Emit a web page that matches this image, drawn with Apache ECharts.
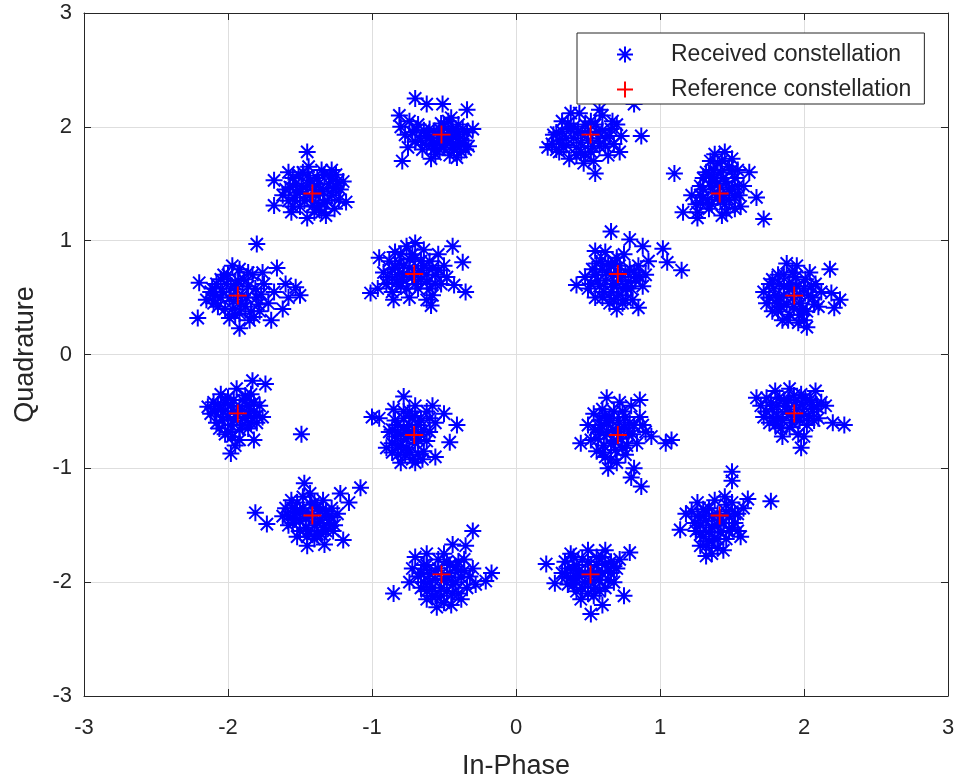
<!DOCTYPE html>
<html>
<head>
<meta charset="utf-8">
<script src="https://cdn.jsdelivr.net/npm/echarts/dist/echarts.min.js"></script>
<style>html,body{margin:0;padding:0;background:#fff}#c{width:961px;height:782px}</style>
</head>
<body>
<div id="c"></div>
<script>
// Received symbols, one list per constellation cluster: [In-Phase, Quadrature]
const rxA = [[-1.45,1.78],[-1.68,1.53],[-1.68,1.31],[-1.18,1.34],[-1.45,1.20],[-1.60,1.45],[-1.58,1.35],[-1.55,1.55],[-1.52,1.42],[-1.50,1.30],[-1.48,1.60],[-1.45,1.48],[-1.42,1.38],[-1.40,1.25],[-1.38,1.55],[-1.36,1.45],[-1.35,1.62],[-1.33,1.33],[-1.30,1.50],[-1.28,1.40],[-1.26,1.28],[-1.25,1.58],[-1.22,1.45],[-1.20,1.52],[-1.56,1.25],[-1.62,1.40],[-1.47,1.35],[-1.40,1.45],[-1.32,1.22],[-1.44,1.65],[-1.28,1.62],[-1.53,1.50],[-1.37,1.30],[-1.23,1.36],[-1.58,1.60],
  [-1.57,1.47],[-1.54,1.38],[-1.51,1.58],[-1.49,1.48],[-1.46,1.41],[-1.43,1.53],[-1.41,1.31],[-1.39,1.40],[-1.37,1.50],[-1.34,1.43],[-1.31,1.35],[-1.29,1.57],[-1.27,1.46],[-1.24,1.52],[-1.33,1.58],[-1.50,1.43],[-1.45,1.57],[-1.35,1.25],[-1.55,1.30],[-1.25,1.47]];
const rxB = [[-1.80,0.97],[-1.66,0.76],[-1.53,0.59],[-2.21,0.32],[-1.92,0.23],[-2.20,0.63],[-1.50,0.52],[-2.12,0.55],[-2.10,0.45],[-2.08,0.62],[-2.05,0.50],[-2.02,0.40],[-2.00,0.70],[-1.98,0.58],[-1.96,0.47],[-1.95,0.35],[-1.93,0.65],[-1.92,0.75],[-1.90,0.52],[-1.88,0.42],[-1.86,0.60],[-1.85,0.30],[-1.83,0.70],[-1.80,0.50],[-1.78,0.38],[-1.75,0.62],[-1.72,0.45],[-1.70,0.30],[-1.68,0.55],[-1.62,0.40],[-1.60,0.62],[-1.58,0.50],[-2.15,0.48],[-1.97,0.78],[-1.82,0.33],[-1.76,0.72],[-2.05,0.66],
  [-2.11,0.58],[-2.07,0.42],[-2.04,0.55],[-2.01,0.62],[-1.99,0.50],[-1.97,0.40],[-1.94,0.57],[-1.91,0.45],[-1.89,0.66],[-1.87,0.50],[-1.84,0.38],[-1.81,0.58],[-1.79,0.44],[-2.09,0.52],[-2.03,0.70],[-1.95,0.62],[-1.77,0.53],[-1.99,0.32],[-1.86,0.72],[-1.92,0.36]];
const rxC = [[-0.70,2.25],[-0.51,2.20],[-0.34,2.15],[-0.79,1.70],[-0.81,2.10],[-0.30,1.98],[-0.62,2.20],[-0.80,2.00],[-0.77,1.93],[-0.74,2.05],[-0.72,1.95],[-0.70,1.87],[-0.68,2.02],[-0.65,1.80],[-0.63,1.92],[-0.60,1.98],[-0.58,1.85],[-0.56,1.76],[-0.54,1.93],[-0.52,2.03],[-0.50,1.82],[-0.48,1.90],[-0.46,1.75],[-0.44,1.98],[-0.42,1.85],[-0.40,1.93],[-0.38,1.78],[-0.36,1.88],[-0.34,1.95],[-0.47,2.05],[-0.59,1.72],[-0.66,1.88],[-0.41,1.73],[-0.53,1.80],[-0.45,2.08],[-0.75,1.82],[-0.33,1.83],
  [-0.62,1.84],[-0.60,1.90],[-0.57,1.95],[-0.55,1.86],[-0.53,1.98],[-0.51,1.90],[-0.49,1.84],[-0.47,1.97],[-0.45,1.89],[-0.43,1.80],[-0.41,1.95],[-0.39,1.86],[-0.37,1.98],[-0.57,1.80],[-0.50,2.00],[-0.44,1.92],[-0.35,1.80],[-0.69,1.97],[-0.64,1.97],[-0.40,2.02]];
const rxD = [[-0.44,0.95],[-0.37,0.81],[-1.01,0.54],[-0.59,0.43],[-0.43,0.61],[-0.35,0.55],[-0.92,0.72],[-0.90,0.62],[-0.88,0.82],[-0.86,0.55],[-0.84,0.90],[-0.82,0.70],[-0.80,0.60],[-0.78,0.78],[-0.76,0.95],[-0.74,0.50],[-0.72,0.68],[-0.70,0.85],[-0.68,0.58],[-0.66,0.74],[-0.64,0.92],[-0.62,0.64],[-0.60,0.82],[-0.58,0.52],[-0.56,0.70],[-0.54,0.88],[-0.52,0.62],[-0.50,0.78],[-0.48,0.68],[-0.95,0.85],[-0.85,0.48],[-0.70,0.98],[-0.62,0.48],[-0.79,0.66],[-0.66,0.82],[-0.96,0.58],
  [-0.89,0.68],[-0.86,0.75],[-0.83,0.63],[-0.81,0.80],[-0.78,0.70],[-0.76,0.58],[-0.74,0.76],[-0.72,0.88],[-0.70,0.62],[-0.68,0.72],[-0.66,0.66],[-0.64,0.78],[-0.62,0.70],[-0.60,0.58],[-0.58,0.76],[-0.56,0.62],[-0.54,0.74],[-0.80,0.88],[-0.74,0.84],[-0.84,0.76]];
const rxE = [[0.87,1.92],[0.55,1.59],[0.82,2.20],[0.22,1.82],[0.25,1.85],[0.28,1.95],[0.30,1.78],[0.32,2.05],[0.35,1.90],[0.37,1.72],[0.40,2.00],[0.42,1.82],[0.44,2.12],[0.46,1.95],[0.48,1.76],[0.50,1.88],[0.52,2.05],[0.54,1.70],[0.56,1.96],[0.58,1.83],[0.60,2.10],[0.62,1.90],[0.64,1.75],[0.66,1.98],[0.68,1.85],[0.70,2.02],[0.72,1.78],[0.38,2.12],[0.33,1.82],[0.47,1.68],[0.58,2.15],[0.26,1.93],[0.73,1.92],[0.42,1.75],
  [0.30,1.88],[0.32,1.96],[0.35,1.84],[0.38,1.98],[0.40,1.90],[0.43,1.96],[0.45,1.86],[0.48,2.02],[0.50,1.95],[0.53,1.83],[0.55,2.02],[0.57,1.90],[0.60,1.97],[0.62,1.83],[0.65,1.92],[0.67,2.05],[0.45,1.78],[0.36,2.03],[0.52,1.78],[0.28,1.80]];
const rxF = [[1.02,0.93],[1.15,0.74],[1.05,0.81],[0.66,1.08],[0.79,1.01],[0.42,0.61],[0.85,0.41],[0.55,0.91],[0.88,0.95],[0.48,0.68],[0.50,0.58],[0.53,0.75],[0.55,0.50],[0.57,0.65],[0.59,0.82],[0.61,0.55],[0.63,0.72],[0.65,0.45],[0.67,0.62],[0.69,0.80],[0.71,0.52],[0.73,0.68],[0.75,0.88],[0.77,0.58],[0.79,0.75],[0.81,0.48],[0.83,0.65],[0.85,0.78],[0.88,0.60],[0.90,0.70],[0.62,0.90],[0.70,0.40],[0.76,0.48],[0.52,0.62],[0.92,0.82],[0.66,0.78],
  [0.55,0.70],[0.58,0.60],[0.60,0.75],[0.62,0.65],[0.64,0.80],[0.66,0.55],[0.68,0.70],[0.70,0.62],[0.72,0.78],[0.74,0.58],[0.76,0.72],[0.78,0.64],[0.80,0.58],[0.82,0.72],[0.70,0.85],[0.60,0.50],[0.68,0.48],[0.86,0.68],[0.56,0.80],[0.74,0.45]];
const rxG = [[1.10,1.59],[1.72,1.19],[1.67,1.38],[1.62,1.60],[1.16,1.25],[1.26,1.20],[1.38,1.76],[1.22,1.40],[1.25,1.32],[1.28,1.48],[1.30,1.38],[1.32,1.60],[1.34,1.28],[1.36,1.52],[1.38,1.42],[1.40,1.68],[1.42,1.35],[1.44,1.55],[1.46,1.25],[1.48,1.45],[1.50,1.72],[1.52,1.38],[1.54,1.62],[1.56,1.30],[1.58,1.48],[1.45,1.78],[1.35,1.70],[1.26,1.25],[1.48,1.65],[1.40,1.50],[1.55,1.40],[1.30,1.55],[1.43,1.22],[1.52,1.28],[1.37,1.62],
  [1.28,1.40],[1.30,1.45],[1.33,1.36],[1.35,1.48],[1.38,1.55],[1.40,1.38],[1.42,1.47],[1.44,1.40],[1.46,1.52],[1.48,1.36],[1.50,1.45],[1.52,1.55],[1.54,1.48],[1.36,1.32],[1.45,1.32],[1.42,1.60],[1.34,1.58],[1.43,1.70],[1.50,1.62],[1.28,1.33]];
const rxH = [[2.18,0.75],[2.19,0.54],[2.21,0.41],[2.02,0.24],[2.25,0.48],[1.72,0.55],[1.74,0.45],[1.76,0.62],[1.78,0.38],[1.80,0.52],[1.82,0.70],[1.84,0.42],[1.86,0.60],[1.88,0.80],[1.90,0.35],[1.92,0.50],[1.94,0.68],[1.96,0.28],[1.98,0.45],[2.00,0.58],[2.02,0.38],[2.04,0.72],[2.06,0.50],[2.08,0.62],[2.10,0.42],[1.95,0.78],[1.85,0.30],[2.00,0.30],[1.78,0.66],[2.12,0.55],[1.90,0.62],[1.83,0.50],
  [1.76,0.50],[1.79,0.58],[1.81,0.45],[1.83,0.62],[1.86,0.52],[1.88,0.44],[1.90,0.58],[1.93,0.42],[1.95,0.60],[1.97,0.52],[1.99,0.40],[2.01,0.66],[2.03,0.52],[2.05,0.60],[1.92,0.72],[1.86,0.70],[1.97,0.35],[1.82,0.38],[2.07,0.44],[1.89,0.30]];
const rxI = [[-1.74,-0.26],[-1.83,-0.23],[-1.49,-0.70],[-1.98,-0.87],[-1.82,-0.75],[-2.12,-0.52],[-2.10,-0.42],[-2.08,-0.60],[-2.05,-0.35],[-2.03,-0.50],[-2.00,-0.68],[-1.98,-0.45],[-1.96,-0.58],[-1.94,-0.30],[-1.92,-0.75],[-1.90,-0.40],[-1.88,-0.55],[-1.86,-0.65],[-1.84,-0.35],[-1.82,-0.50],[-1.80,-0.60],[-1.78,-0.45],[-1.76,-0.55],[-2.06,-0.65],[-1.95,-0.80],[-2.00,-0.38],[-1.90,-0.62],[-1.85,-0.45],[-2.14,-0.46],[-1.96,-0.50],
  [-2.09,-0.50],[-2.07,-0.44],[-2.04,-0.58],[-2.02,-0.42],[-2.00,-0.55],[-1.98,-0.62],[-1.96,-0.40],[-1.94,-0.52],[-1.92,-0.46],[-1.90,-0.56],[-1.88,-0.36],[-1.86,-0.52],[-1.84,-0.60],[-1.82,-0.42],[-1.80,-0.54],[-2.02,-0.70],[-1.92,-0.66],[-1.97,-0.72],[-2.05,-0.48],[-1.87,-0.45]];
const rxJ = [[-1.08,-1.17],[-1.81,-1.39],[-1.73,-1.49],[-1.47,-1.13],[-1.20,-1.63],[-1.33,-1.67],[-1.16,-1.30],[-1.22,-1.22],[-1.62,-1.42],[-1.60,-1.35],[-1.58,-1.50],[-1.56,-1.28],[-1.54,-1.45],[-1.52,-1.60],[-1.50,-1.38],[-1.48,-1.25],[-1.46,-1.52],[-1.44,-1.42],[-1.42,-1.32],[-1.40,-1.62],[-1.38,-1.48],[-1.36,-1.38],[-1.34,-1.28],[-1.32,-1.55],[-1.30,-1.42],[-1.28,-1.35],[-1.26,-1.50],[-1.24,-1.40],[-1.50,-1.55],[-1.43,-1.22],[-1.35,-1.58],[-1.55,-1.35],[-1.45,-1.68],
  [-1.58,-1.42],[-1.55,-1.48],[-1.53,-1.38],[-1.50,-1.46],[-1.48,-1.35],[-1.46,-1.44],[-1.44,-1.55],[-1.42,-1.40],[-1.40,-1.50],[-1.38,-1.35],[-1.36,-1.45],[-1.34,-1.52],[-1.32,-1.38],[-1.30,-1.48],[-1.28,-1.43],[-1.45,-1.60],[-1.40,-1.30],[-1.52,-1.30],[-1.38,-1.58],[-1.27,-1.55]];
const rxK = [[-1.00,-0.55],[-0.95,-0.56],[-0.41,-0.62],[-0.56,-0.90],[-0.78,-0.37],[-0.46,-0.77],[-0.50,-0.52],[-0.88,-0.68],[-0.86,-0.78],[-0.84,-0.58],[-0.82,-0.88],[-0.80,-0.70],[-0.78,-0.50],[-0.76,-0.82],[-0.74,-0.62],[-0.72,-0.92],[-0.70,-0.45],[-0.68,-0.75],[-0.66,-0.58],[-0.64,-0.85],[-0.62,-0.50],[-0.60,-0.68],[-0.58,-0.45],[-0.56,-0.60],[-0.80,-0.95],[-0.70,-0.95],[-0.85,-0.48],[-0.75,-0.70],[-0.65,-0.92],[-0.90,-0.82],[-0.72,-0.55],[-0.77,-0.88],
  [-0.86,-0.66],[-0.84,-0.72],[-0.82,-0.62],[-0.80,-0.80],[-0.78,-0.64],[-0.76,-0.74],[-0.74,-0.86],[-0.72,-0.68],[-0.70,-0.78],[-0.68,-0.62],[-0.66,-0.70],[-0.64,-0.66],[-0.62,-0.76],[-0.60,-0.56],[-0.78,-0.56],[-0.82,-0.80],[-0.74,-0.50],[-0.68,-0.88],[-0.86,-0.86],[-0.70,-0.54]];
const rxL = [[-0.30,-1.55],[-0.85,-2.10],[-0.21,-1.99],[-0.35,-1.68],[-0.44,-1.67],[-0.17,-1.92],[-0.72,-1.88],[-0.70,-1.78],[-0.68,-1.95],[-0.66,-2.05],[-0.64,-1.85],[-0.62,-1.75],[-0.60,-2.00],[-0.58,-2.12],[-0.56,-1.90],[-0.54,-1.80],[-0.52,-2.05],[-0.50,-2.18],[-0.48,-1.95],[-0.46,-1.85],[-0.44,-2.10],[-0.42,-2.00],[-0.40,-1.90],[-0.38,-2.15],[-0.36,-1.80],[-0.34,-2.05],[-0.32,-1.95],[-0.30,-1.88],[-0.55,-2.22],[-0.45,-2.20],[-0.62,-2.15],[-0.28,-2.02],[-0.74,-2.00],[-0.50,-1.75],
  [-0.66,-1.92],[-0.64,-2.00],[-0.62,-1.85],[-0.60,-1.93],[-0.58,-2.05],[-0.56,-1.97],[-0.54,-1.88],[-0.52,-2.12],[-0.50,-1.98],[-0.48,-2.08],[-0.46,-1.92],[-0.44,-2.02],[-0.42,-1.86],[-0.40,-2.10],[-0.38,-1.96],[-0.36,-1.90],[-0.56,-2.12],[-0.48,-1.82],[-0.62,-2.08],[-0.40,-1.82]];
const rxM = [[0.87,-1.16],[1.04,-0.78],[0.82,-1.00],[0.45,-0.78],[0.86,-0.40],[0.63,-0.38],[1.08,-0.75],[0.80,-1.08],[0.50,-0.62],[0.52,-0.75],[0.54,-0.52],[0.56,-0.85],[0.58,-0.68],[0.60,-0.48],[0.62,-0.90],[0.64,-0.60],[0.66,-0.78],[0.68,-0.50],[0.70,-0.95],[0.72,-0.65],[0.74,-0.82],[0.76,-0.55],[0.78,-0.70],[0.80,-0.45],[0.82,-0.62],[0.84,-0.78],[0.90,-0.68],[0.94,-0.72],[0.66,-0.92],[0.58,-0.58],[0.72,-0.42],[0.86,-0.55],[0.64,-1.00],[0.76,-0.88],
  [0.55,-0.66],[0.57,-0.74],[0.59,-0.62],[0.61,-0.80],[0.63,-0.70],[0.65,-0.56],[0.67,-0.66],[0.69,-0.84],[0.71,-0.58],[0.73,-0.74],[0.75,-0.64],[0.77,-0.80],[0.79,-0.60],[0.81,-0.70],[0.68,-0.76],[0.62,-0.54],[0.74,-0.50],[0.70,-0.68],[0.88,-0.62],[0.60,-0.86]];
const rxN = [[0.21,-1.84],[0.52,-2.28],[0.75,-2.12],[0.79,-1.74],[0.27,-2.01],[0.60,-2.20],[0.32,-1.92],[0.34,-1.82],[0.36,-2.02],[0.38,-1.75],[0.40,-1.88],[0.42,-2.08],[0.44,-1.95],[0.46,-1.80],[0.48,-2.00],[0.50,-1.72],[0.52,-1.90],[0.54,-2.12],[0.56,-1.85],[0.58,-1.98],[0.60,-1.78],[0.62,-2.05],[0.64,-1.90],[0.66,-1.82],[0.68,-2.00],[0.70,-1.88],[0.45,-2.15],[0.35,-1.95],[0.62,-1.72],[0.55,-2.05],[0.40,-1.78],[0.72,-1.80],
  [0.36,-1.88],[0.38,-1.96],[0.40,-2.02],[0.42,-1.85],[0.44,-1.90],[0.46,-2.05],[0.48,-1.92],[0.50,-1.82],[0.52,-2.00],[0.54,-1.94],[0.56,-1.78],[0.58,-2.08],[0.60,-1.92],[0.62,-1.84],[0.64,-1.98],[0.66,-1.92],[0.50,-2.10],[0.42,-1.96],[0.68,-1.86],[0.56,-1.92]];
const rxO = [[2.28,-0.62],[1.98,-0.82],[1.67,-0.38],[2.20,-0.60],[2.15,-0.45],[1.70,-0.45],[1.72,-0.55],[1.74,-0.38],[1.76,-0.60],[1.78,-0.48],[1.80,-0.32],[1.82,-0.55],[1.84,-0.65],[1.86,-0.40],[1.88,-0.50],[1.90,-0.30],[1.92,-0.60],[1.94,-0.42],[1.96,-0.70],[1.98,-0.35],[2.00,-0.52],[2.02,-0.62],[2.04,-0.40],[2.06,-0.48],[2.08,-0.32],[2.10,-0.56],[2.12,-0.42],[1.85,-0.72],[2.00,-0.72],[1.95,-0.55],
  [1.74,-0.50],[1.77,-0.42],[1.79,-0.56],[1.81,-0.45],[1.83,-0.38],[1.85,-0.58],[1.87,-0.46],[1.89,-0.40],[1.91,-0.52],[1.93,-0.36],[1.95,-0.48],[1.97,-0.58],[1.99,-0.44],[2.01,-0.38],[2.03,-0.54],[2.05,-0.42],[2.07,-0.58],[1.90,-0.64],[1.80,-0.62],[2.09,-0.46]];
const rxP = [[1.50,-1.03],[1.50,-1.11],[1.77,-1.29],[1.14,-1.54],[1.32,-1.77],[1.61,-1.27],[1.18,-1.40],[1.22,-1.38],[1.24,-1.48],[1.26,-1.30],[1.28,-1.58],[1.30,-1.42],[1.32,-1.68],[1.34,-1.35],[1.36,-1.52],[1.38,-1.28],[1.40,-1.62],[1.42,-1.45],[1.44,-1.72],[1.46,-1.38],[1.48,-1.55],[1.50,-1.30],[1.52,-1.48],[1.54,-1.40],[1.56,-1.60],[1.36,-1.75],[1.28,-1.68],[1.45,-1.25],[1.40,-1.50],[1.58,-1.35],[1.25,-1.55],
  [1.26,-1.42],[1.28,-1.50],[1.30,-1.36],[1.32,-1.46],[1.34,-1.56],[1.36,-1.42],[1.38,-1.50],[1.40,-1.40],[1.42,-1.56],[1.44,-1.48],[1.46,-1.62],[1.48,-1.42],[1.50,-1.52],[1.52,-1.40],[1.34,-1.64],[1.40,-1.70],[1.30,-1.60],[1.46,-1.32],[1.54,-1.55],[1.38,-1.62]];

// Reference constellation (16-APSK, radii 1 and 2)
const refI = [0.7071,-0.7071,-0.7071,0.7071,1.9319,1.4142,0.5176,-0.5176,-1.4142,-1.9319,-1.9319,-1.4142,-0.5176,0.5176,1.4142,1.9319];
const refQ = [0.7071,0.7071,-0.7071,-0.7071,0.5176,1.4142,1.9319,1.9319,1.4142,0.5176,-0.5176,-1.4142,-1.9319,-1.9319,-1.4142,-0.5176];

const seriesNames = ['Received constellation', 'Reference constellation'];
const axisNames = ['In-Phase', 'Quadrature'];

const received = [].concat(rxA, rxB, rxC, rxD, rxE, rxF, rxG, rxH, rxI, rxJ, rxK, rxL, rxM, rxN, rxO, rxP);
const reference = refI.map((v, i) => [v, refQ[i]]);

const FONT = "'Liberation Sans', Arial, Helvetica, sans-serif";
const INK = '#262626';
const STAR = 'path://M0 -1 L0 1 M-1 0 L1 0 M-0.72 -0.72 L0.72 0.72 M-0.72 0.72 L0.72 -0.72';
const PLUS = 'path://M0 -1 L0 1 M-1 0 L1 0';

const chart = echarts.init(document.getElementById('c'), null, {renderer: 'canvas'});
const boxAxis = {
  min: -3, max: 3, interval: 1,
  axisLine: {show: true, onZero: false, lineStyle: {color: INK, width: 1}},
  axisTick: {show: true, inside: true, length: 7, lineStyle: {color: INK}},
  axisLabel: {show: false},
  splitLine: {show: false}
};
chart.setOption({
  animation: false,
  backgroundColor: '#ffffff',
  grid: {left: 84, right: 13, top: 13, bottom: 86, containLabel: false, outerBoundsMode: 'none'},
  xAxis: [
    {
      type: 'value', position: 'bottom', min: -3, max: 3, interval: 1,
      name: axisNames[0], nameLocation: 'middle', nameGap: 57,
      nameTextStyle: {fontFamily: FONT, fontSize: 27, color: INK},
      axisLine: {show: true, onZero: false, lineStyle: {color: INK, width: 1}},
      axisTick: {show: true, inside: true, length: 7, lineStyle: {color: INK}},
      axisLabel: {show: true, margin: 21, fontFamily: FONT, fontSize: 22, color: INK},
      splitLine: {show: true, lineStyle: {color: '#dedede', width: 1}}
    },
    Object.assign({type: 'value', position: 'top'}, boxAxis)
  ],
  yAxis: [
    {
      type: 'value', position: 'left', min: -3, max: 3, interval: 1,
      name: axisNames[1], nameLocation: 'middle', nameGap: 45, nameRotate: 90,
      nameTextStyle: {fontFamily: FONT, fontSize: 27, color: INK},
      axisLine: {show: true, onZero: false, lineStyle: {color: INK, width: 1}},
      axisTick: {show: true, inside: true, length: 7, lineStyle: {color: INK}},
      axisLabel: {show: true, margin: 12, fontFamily: FONT, fontSize: 22, color: INK},
      splitLine: {show: true, lineStyle: {color: '#dedede', width: 1}}
    },
    Object.assign({type: 'value', position: 'right'}, boxAxis)
  ],
  legend: {
    orient: 'vertical', left: 577, top: 33,
    padding: [10, 13, 3, 39], itemGap: 12,
    itemWidth: 16, itemHeight: 16,
    backgroundColor: '#ffffff', borderColor: INK, borderWidth: 1,
    selectedMode: false,
    textStyle: {fontFamily: FONT, fontSize: 23, color: INK, lineHeight: 22, padding: [0, 0, 0, 33]},
    data: seriesNames
  },
  series: [
    {
      name: seriesNames[0], type: 'scatter', data: received,
      symbol: STAR, symbolSize: 17, symbolKeepAspect: true,
      itemStyle: {color: '#0000ff', borderColor: '#0000ff', borderWidth: 2, opacity: 1},
      emphasis: {disabled: true}, large: false, progressive: 0, z: 2
    },
    {
      name: seriesNames[1], type: 'scatter', data: reference,
      symbol: PLUS, symbolSize: 18, symbolKeepAspect: true,
      itemStyle: {color: '#ff0000', borderColor: '#ff0000', borderWidth: 1.8, opacity: 1},
      emphasis: {disabled: true}, z: 3
    }
  ]
});
</script>
</body>
</html>
